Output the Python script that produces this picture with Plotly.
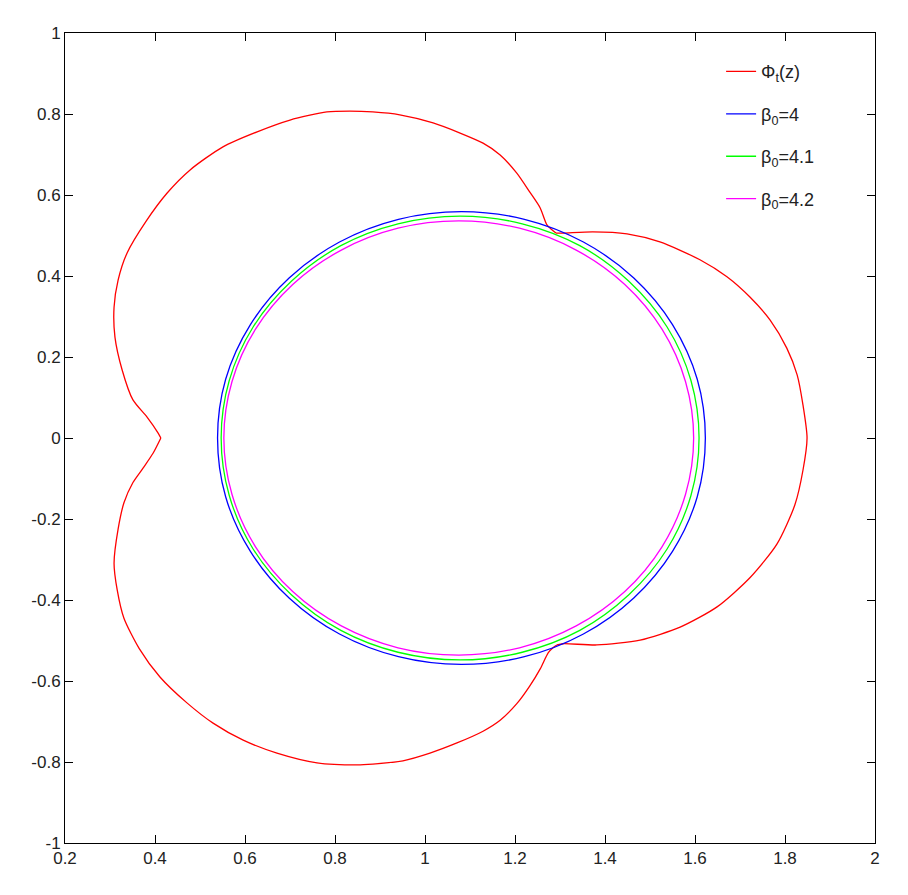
import plotly.graph_objects as go

# Phi_t(z): contour, split at its corners (cusp and the two junctions)
# left lobe, upper part: cusp -> upper junction
phi_x_a = [0.413, 0.407, 0.382, 0.351, 0.327, 0.311, 0.309, 0.318, 0.338, 0.380,
           0.427, 0.478, 0.551, 0.627, 0.700, 0.782, 0.833, 0.884, 0.944, 1.018,
           1.078, 1.129, 1.167, 1.204, 1.233, 1.256, 1.271, 1.282, 1.291]
phi_y_a = [0.000, 0.012, 0.052, 0.094, 0.168, 0.249, 0.323, 0.390, 0.457, 0.535,
           0.605, 0.662, 0.719, 0.756, 0.785, 0.805, 0.807, 0.805, 0.798, 0.778,
           0.753, 0.728, 0.699, 0.654, 0.607, 0.568, 0.526, 0.514, 0.506]

# right lobe: upper junction -> right tip -> lower junction
phi_x_b = [1.291, 1.307, 1.373, 1.449, 1.522, 1.611, 1.671, 1.722, 1.767, 1.804,
           1.827, 1.840, 1.849, 1.840, 1.822, 1.782, 1.722, 1.649, 1.567, 1.478,
           1.382, 1.307, 1.293]
phi_y_b = [0.506, 0.506, 0.509, 0.504, 0.484, 0.440, 0.398, 0.348, 0.291, 0.222,
           0.156, 0.081, 0.000, -0.079, -0.165, -0.262, -0.345, -0.417, -0.467, -0.499,
           -0.511, -0.508, -0.511]

# left lobe, lower part: lower junction -> cusp
phi_x_c = [1.293, 1.285, 1.274, 1.256, 1.233, 1.204, 1.167, 1.129, 1.071, 1.011,
           0.951, 0.884, 0.849, 0.760, 0.671, 0.596, 0.529, 0.471, 0.411, 0.365,
           0.331, 0.316, 0.309, 0.318, 0.331, 0.351, 0.373, 0.396, 0.413]
phi_y_c = [-0.511, -0.517, -0.530, -0.570, -0.612, -0.656, -0.697, -0.724, -0.753, -0.778,
           -0.797, -0.805, -0.807, -0.802, -0.778, -0.746, -0.704, -0.654, -0.590, -0.520,
           -0.445, -0.375, -0.309, -0.225, -0.160, -0.110, -0.075, -0.037, 0.000]

# beta_0 = 4
b40_x = [1.623, 1.605, 1.550, 1.464, 1.352, 1.221, 1.081, 0.941, 0.810, 0.698, 0.612, 0.557, 0.539,
         0.557, 0.612, 0.698, 0.810, 0.941, 1.081, 1.221, 1.352, 1.464, 1.550, 1.605, 1.623]
b40_y = [0.000, 0.145, 0.280, 0.395, 0.484, 0.540, 0.559, 0.540, 0.484, 0.395, 0.280, 0.145, 0.000,
         -0.145, -0.280, -0.395, -0.484, -0.540, -0.559, -0.540, -0.484, -0.395, -0.280, -0.145, 0.000]

# beta_0 = 4.1
b41_x = [1.609, 1.591, 1.538, 1.453, 1.344, 1.216, 1.078, 0.940, 0.813, 0.703, 0.618, 0.565, 0.547,
         0.565, 0.618, 0.703, 0.813, 0.940, 1.078, 1.216, 1.344, 1.453, 1.538, 1.591, 1.609]
b41_y = [0.000, 0.142, 0.274, 0.387, 0.475, 0.529, 0.548, 0.529, 0.475, 0.387, 0.274, 0.142, 0.000,
         -0.142, -0.274, -0.387, -0.475, -0.529, -0.548, -0.529, -0.475, -0.387, -0.274, -0.142, 0.000]

# beta_0 = 4.2
b42_x = [1.597, 1.579, 1.527, 1.444, 1.336, 1.210, 1.075, 0.940, 0.814, 0.706, 0.623, 0.571, 0.553,
         0.571, 0.623, 0.706, 0.814, 0.940, 1.075, 1.210, 1.336, 1.444, 1.527, 1.579, 1.597]
b42_y = [0.000, 0.139, 0.268, 0.379, 0.464, 0.518, 0.536, 0.518, 0.464, 0.379, 0.268, 0.139, 0.000,
         -0.139, -0.268, -0.379, -0.464, -0.518, -0.536, -0.518, -0.464, -0.379, -0.268, -0.139, 0.000]

x_ticks = [0.2, 0.4, 0.6, 0.8, 1.0, 1.2, 1.4, 1.6, 1.8, 2.0]
x_labels = ["0.2", "0.4", "0.6", "0.8", "1", "1.2", "1.4", "1.6", "1.8", "2"]
y_ticks = [-1.0, -0.8, -0.6, -0.4, -0.2, 0.0, 0.2, 0.4, 0.6, 0.8, 1.0]
y_labels = ["-1", "-0.8", "-0.6", "-0.4", "-0.2", "0", "0.2", "0.4", "0.6", "0.8", "1"]

fig = go.Figure()

# curva vermelha em tres trechos suaves, uma so entrada na legenda
trechos = [(phi_x_a, phi_y_a, True), (phi_x_b, phi_y_b, False), (phi_x_c, phi_y_c, False)]
for xs, ys, mostra in trechos:
    fig.add_trace(go.Scatter(x=xs, y=ys, mode="lines", name="Φ<sub>t</sub>(z)",
                             legendgroup="a", showlegend=mostra,
                             line=dict(color="#ff0000", width=1.3, shape="spline", smoothing=0.7)))

curvas = [
    (b40_x, b40_y, "β<sub>0</sub>=4", "#0000ff", "b"),
    (b41_x, b41_y, "β<sub>0</sub>=4.1", "#00ff00", "c"),
    (b42_x, b42_y, "β<sub>0</sub>=4.2", "#ff00ff", "d"),
]
for xs, ys, nome, cor, grupo in curvas:
    fig.add_trace(go.Scatter(x=xs, y=ys, mode="lines", name=nome, legendgroup=grupo,
                             line=dict(color=cor, width=1.3, shape="spline")))

eixo = dict(
    showgrid=False, zeroline=False,
    showline=True, linecolor="black", linewidth=1, mirror="ticks",
    ticks="inside", ticklen=8, tickcolor="black",
    tickfont=dict(family="Liberation Sans, Arial", size=17, color="#222222"),
)

fig.update_xaxes(range=[0.2, 2], tickvals=x_ticks, ticktext=x_labels, **eixo)
fig.update_yaxes(range=[-1, 1], tickvals=y_ticks, ticktext=y_labels, **eixo)

# a pagina tem 8 px de margem no body, por isso 900x887
fig.update_layout(
    width=900, height=887,
    margin=dict(l=57, r=33, t=25, b=52),
    plot_bgcolor="white",
    paper_bgcolor="white",
    showlegend=True,
    legend=dict(
        x=0.81, y=0.975, xanchor="left", yanchor="top",
        bgcolor="rgba(255,255,255,0)", borderwidth=0,
        font=dict(family="Liberation Sans, Arial", size=18, color="#222222"),
        tracegroupgap=16,
    ),
)

fig.write_html("out.html")
